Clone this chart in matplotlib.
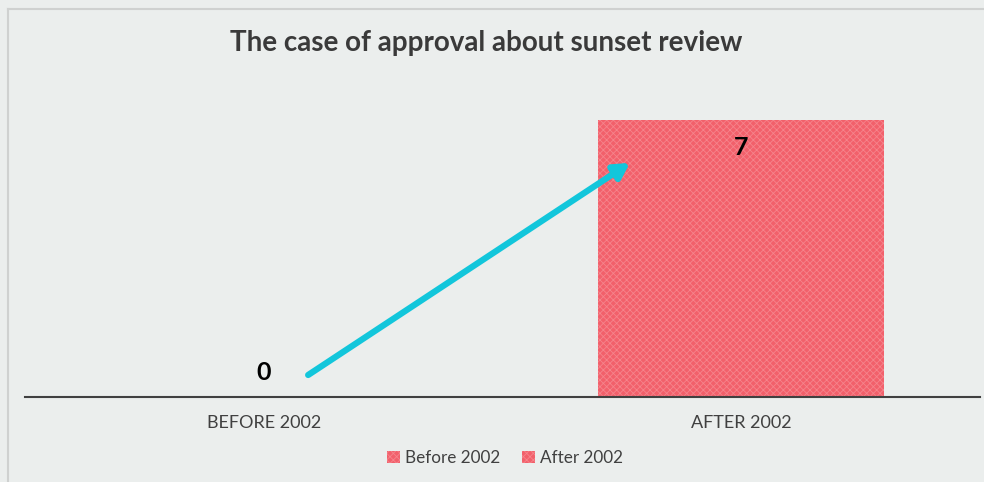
import matplotlib.pyplot as plt
from matplotlib.patches import Patch
from matplotlib.lines import Line2D

categories = ["BEFORE 2002", "AFTER 2002"]
series = ["Before 2002", "After 2002"]
values = [0, 7]

bar_color = "#F2606B"
hatch_color = "#F5848C"
bg = "#EBEEED"
plt.rcParams["hatch.linewidth"] = 0.6

fig = plt.figure(figsize=(9.84, 4.82), dpi=100, facecolor=bg)
ax = fig.add_axes([0.0254, 0.1763, 0.9705, 0.6577])
ax.set_facecolor("none")

# outer frame (only left and top edges are visible)
fig.lines.append(Line2D([8 / 984, 8 / 984], [0, 1 - 9 / 482], transform=fig.transFigure,
                        color="#CFD1D0", lw=1.5))
fig.lines.append(Line2D([8 / 984, 1], [1 - 9 / 482, 1 - 9 / 482], transform=fig.transFigure,
                        color="#CFD1D0", lw=1.5))

x = range(len(categories))
bars = ax.bar(x, values, width=0.6, color=bar_color, edgecolor=hatch_color,
              hatch="xxxxx", lw=0)

ax.set_xlim(-0.5, 1.5)
ax.set_ylim(0, 8)
ax.set_xticks(list(x))
ax.set_xticklabels(categories, fontsize=13, color="#404040", family="Lato")
ax.tick_params(axis="x", length=0, pad=13)
ax.set_yticks([])
for s in ["top", "right", "left"]:
    ax.spines[s].set_visible(False)
ax.spines["bottom"].set_color("#404040")
ax.spines["bottom"].set_linewidth(1.5)

# value labels
ax.annotate(str(values[0]), (0, values[0]), xytext=(0, 18),
            textcoords="offset points", ha="center", va="center",
            fontsize=18, fontweight="bold", family="Lato", color="black")
ax.annotate(str(values[1]), (1, values[1]), xytext=(0, -20),
            textcoords="offset points", ha="center", va="center",
            fontsize=18, fontweight="bold", family="Lato", color="black")

# arrow
ax.annotate("", xy=(0.767, 5.91), xytext=(0.093, 0.556),
            arrowprops=dict(arrowstyle="-|>,head_length=0.9,head_width=0.5",
                            color="#12C6DB", lw=4.5, shrinkA=0, shrinkB=0))

fig.text(486.5 / 984, 1 - 43 / 482, "The case of approval about sunset review",
         ha="center", va="center", fontsize=20, fontweight="bold",
         family="Lato", color="#3A3A3A")

handles = [Patch(facecolor=bar_color, edgecolor=hatch_color, hatch="xxxxx", lw=0)
           for _ in series]
fig.legend(handles, series, loc="center", bbox_to_anchor=(505 / 984, 1 - 458 / 482),
           ncol=2, frameon=False, handlelength=0.75,
           handleheight=0.75, handletextpad=0.3, columnspacing=1.25,
           prop={"family": "Lato", "size": 12.3}, labelcolor="#404040")

fig.savefig("out.png", dpi=100, facecolor=bg)
